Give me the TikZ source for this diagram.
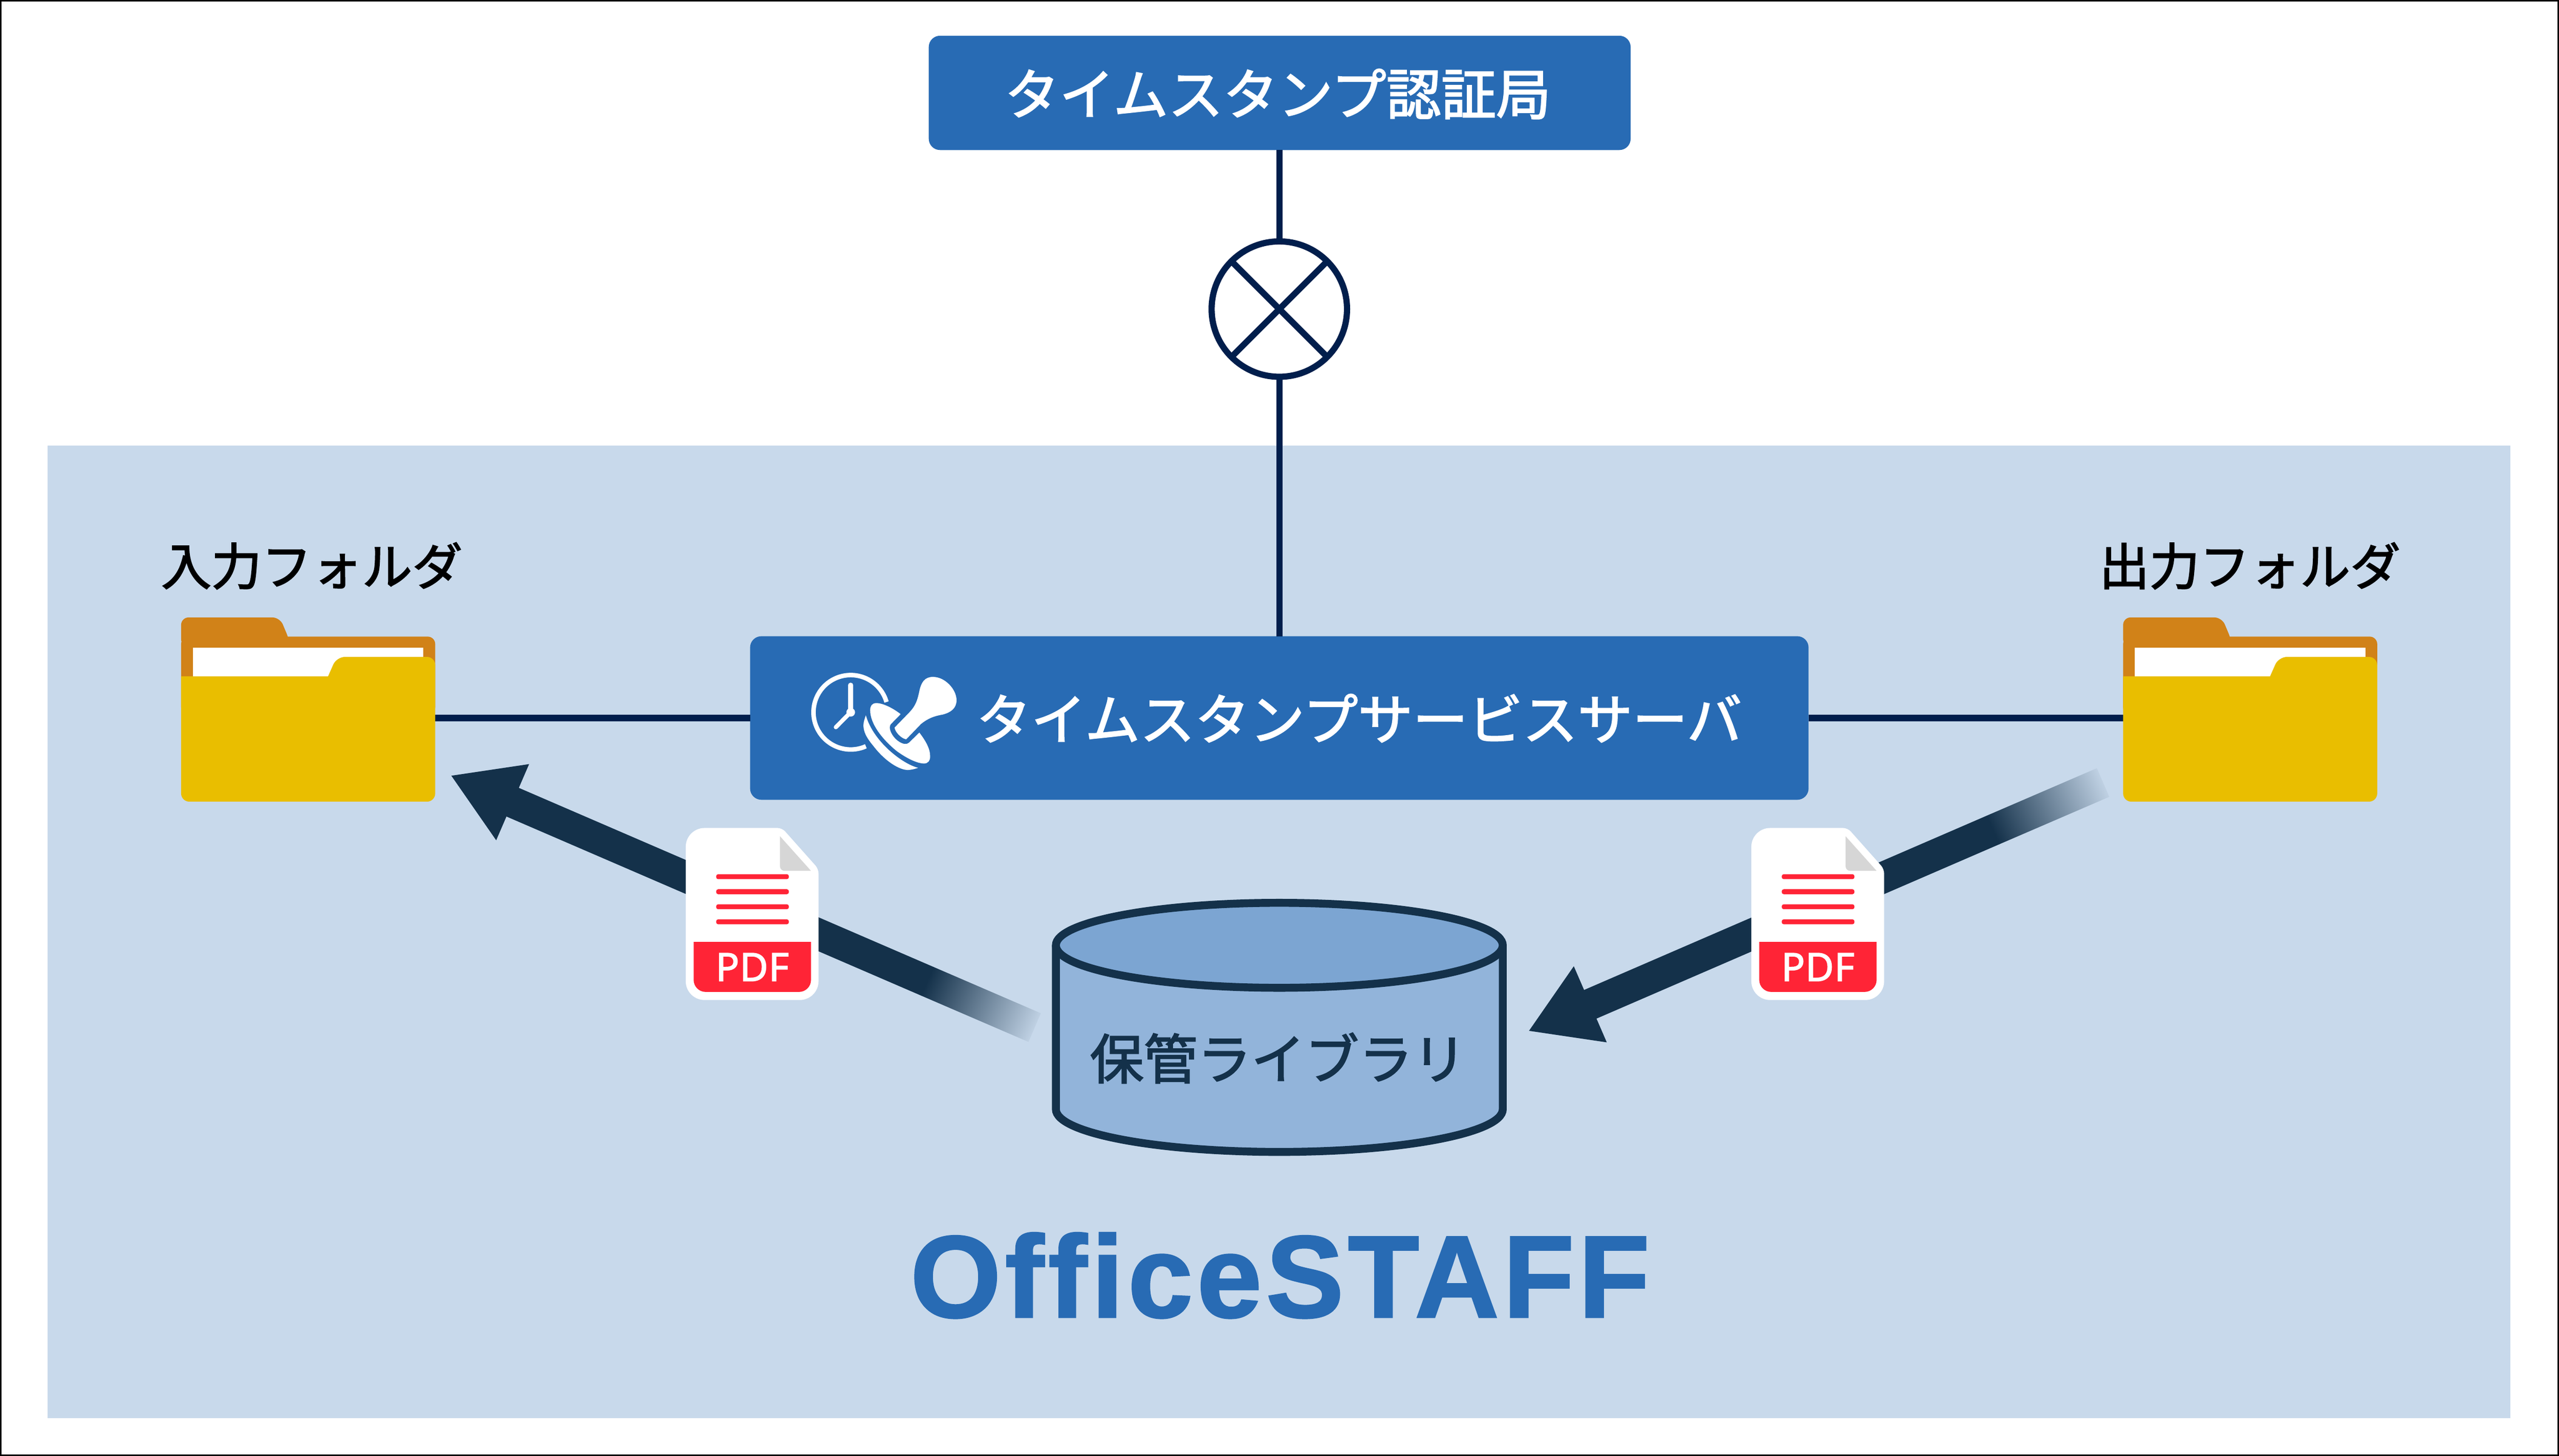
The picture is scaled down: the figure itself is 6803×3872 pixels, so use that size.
\documentclass[tikz,border=0pt]{standalone}
\usepackage{fontspec}
\usetikzlibrary{arrows.meta,shapes.geometric}
\setmainfont[RawFeature={embolden=2.2}]{Noto Sans CJK JP}
\newfontfamily\brandfont[LetterSpace=3.6,Ligatures=NoCommon,RawFeature={embolden=1.5}]{Liberation Sans}
\newfontfamily\pdffont[RawFeature={embolden=2},LetterSpace=1]{Noto Sans}
\definecolor{bgblue}{HTML}{C8D9EB}
\definecolor{boxblue}{HTML}{286BB4}
\definecolor{linkcol}{HTML}{011E4C}
\definecolor{arrowcol}{HTML}{14314A}
\definecolor{cyltop}{HTML}{7CA5D2}
\definecolor{cylbody}{HTML}{92B4DA}
\definecolor{folderfront}{HTML}{E9BE00}
\definecolor{folderback}{HTML}{D18218}
\definecolor{pdfred}{HTML}{FF2436}
\definecolor{foldgrey}{HTML}{D6D6D6}
\tikzset{
  bluebox/.style={rectangle,rounded corners=3pt,fill=boxblue,inner sep=0pt,outer sep=0pt},
  whitetext/.style={text=white,inner sep=0pt,outer sep=0pt,font=\fontsize{14.6}{17}\selectfont},
  foldertext/.style={text=black,inner sep=0pt,outer sep=0pt,font=\fontsize{13.35}{16}\selectfont},
  link/.style={draw=linkcol,line width=1.65pt},
  flow/.style={draw=arrowcol,line width=8.3pt,-{Triangle[length=18pt,width=20.7pt]}},
  fadetail/.style={left color=arrowcol,right color=bgblue!95!arrowcol},
  ghost/.style={rectangle,inner sep=0pt,outer sep=0pt},
}
\newcommand{\folderart}{%
  \fill[folderback,rounded corners=2pt] (481.5,1720) -- (481.5,1642) -- (744,1642) -- (770,1704) -- (770,1720) -- cycle;
  \fill[folderback,rounded corners=2pt] (481.5,1900) -- (481.5,1693) -- (1157,1693) -- (1157,1900) -- cycle;
  \fill[white] (512.5,1722) rectangle (1125.6,1800);
  \fill[folderfront] (481.5,1799) -- (872,1799) [rounded corners=2.2pt] -- (895,1747) -- (1157,1747) -- (1157,2132) -- (481.5,2132) [sharp corners] -- cycle;
}
\newcommand{\pdfart}{%
  \fill[white] (1823,2430) [rounded corners=5pt] -- (1823,2202) [rounded corners=1.2pt] -- (2079,2202) -- (2176,2311) [rounded corners=5pt] -- (2176,2659.5) -- (1823,2659.5) [sharp corners] -- cycle;
  \fill[foldgrey] (2073.6,2224) -- (2156,2316) [rounded corners=1.2pt] -- (2073.6,2316) [sharp corners] -- cycle;
  \foreach \ly in {2325,2365,2405,2445}{
    \fill[pdfred,rounded corners=0.5pt] (1904,\ly) rectangle (2097,\ly+13);
  }
  \fill[pdfred] (1844,2505) -- (2156,2505) [rounded corners=3.2pt] -- (2156,2638) -- (1844,2638) [sharp corners] -- cycle;
}
\begin{document}
\begin{tikzpicture}[x=0.1pt,y=-0.1pt]
\useasboundingbox (0,0) rectangle (6803,3872);
\fill[white] (0,0) rectangle (6803,3872);
\draw[black,line width=0.4pt] (2,2) rectangle (6801,3870);
\fill[bgblue] (126,1185) rectangle (6673,3771);

% anchors of main blocks
\node[bluebox,minimum width=186.6pt,minimum height=30.4pt] (ca) at (3402,247) {};
\node[circle,draw=linkcol,fill=white,line width=1.65pt,minimum size=36pt,inner sep=0pt,outer sep=0pt] (cross) at (3401,822) {};
\node[bluebox,minimum width=281.4pt,minimum height=43.5pt] (server) at (3401,1909.5) {};
\node[ghost,minimum width=67.55pt,minimum height=49pt] (folderL) at (819.25,1887) {};
\node[ghost,minimum width=67.55pt,minimum height=49pt] (folderR) at (5982.25,1887) {};

% connectors
\draw[link] (ca.south -| cross.north) -- (cross.north);
\draw[link] (cross.south) -- (cross.south |- server.north);
\draw[link] (cross.45) -- (cross.225);
\draw[link] (cross.135) -- (cross.-45);
\draw[link] (folderL.east |- server.west) -- (server.west);
\draw[link] (server.east) -- (folderR.west |- server.east);

% text in the blue boxes
\node[whitetext] (catext) at (3397,250) {タイムスタンプ認証局};
\node[whitetext] (servertext) at (3613,1910) {タイムスタンプサービスサーバ};

% stamp and clock icon
\draw[white,line width=1.2pt] plot[domain=16:294,samples=50,smooth] ({2261.6+99*cos(\x)},{1894.3-99*sin(\x)});
\draw[white,line width=1.3pt,line cap=round] (2261.6,1894) -- (2261.6,1822);
\draw[white,line width=1.1pt,line cap=round] (2261.6,1894) -- (2222,1934);
\fill[white] (2261.6,1894.3) circle[radius=11.5];
\begin{scope}[shift={(1900,1600)},xscale=0.6378,yscale=0.3827]
  \fill[white] (750,875) -- (810,772) .. controls (840,720) and (845,680) .. (852,630) .. controls (860,560) and (875,523) .. (910,523) .. controls (960,523) and (1008,610) .. (1008,685) .. controls (1008,740) and (985,770) .. (950,785) .. controls (915,795) and (890,810) .. (860,850) -- (798,957) .. controls (775,950) and (750,900) .. (750,875) -- cycle;
  \fill[white] (775,782) .. controls (735,730) and (695,705) .. (675,705) .. controls (655,705) and (648,725) .. (648,755) .. controls (648,850) and (700,960) .. (760,1040) .. controls (810,1100) and (850,1125) .. (872,1125) .. controls (890,1125) and (898,1105) .. (898,1075) .. controls (898,1020) and (878,965) .. (853,910) -- (810,980) .. controls (800,995) and (785,990) .. (770,975) .. controls (745,950) and (728,900) .. (730,870) .. controls (730,860) and (733,855) .. (735,850) -- cycle;
  \fill[white] (630,790) .. controls (650,910) and (710,1020) .. (770,1090) .. controls (800,1125) and (825,1145) .. (848,1155) .. controls (830,1165) and (815,1170) .. (805,1170) .. controls (770,1170) and (710,1110) .. (660,1000) .. controls (630,940) and (620,900) .. (620,860) .. controls (620,835) and (625,815) .. (630,790) -- cycle;
\end{scope}

% folders
\folderart
\begin{scope}[xshift=516.3pt]\folderart\end{scope}
\node[foldertext] (folderLlabel) at (829,1505) {入力フォルダ};
\node[foldertext] (folderRlabel) at (5981,1505) {出力フォルダ};

% library cylinder
\node[ghost,minimum width=118.75pt,minimum height=66.35pt] (library) at (3401,2732) {};
\fill[cylbody] (2807,2514) -- (2807,2950) .. controls (2807,3013) and (3073,3063.5) .. (3401,3063.5) .. controls (3729,3063.5) and (3995,3013) .. (3995,2950) -- (3995,2514) -- cycle;
\draw[arrowcol,line width=2.1pt] (2807,2514) -- (2807,2950) .. controls (2807,3013) and (3073,3063.5) .. (3401,3063.5) .. controls (3729,3063.5) and (3995,3013) .. (3995,2950) -- (3995,2514);
\draw[arrowcol,fill=cyltop,line width=2.1pt] (3401,2514) ellipse[x radius=594,y radius=113];
\node[text=arrowcol,inner sep=0pt,font=\fontsize{14.3}{17}\selectfont] (librarytext) at (3398,2814) {保管ライブラリ};

% flows
\coordinate (flowLtip) at (1197.6,2062);
\coordinate (flowLfade) at (2466,2610);
\coordinate (flowRtip) at (4062.5,2742.4);
\coordinate (flowRfade) at (5299,2207);
\draw[flow] (flowLfade) -- (flowLtip);
\draw[flow] (flowRfade) -- (flowRtip);
\shade[fadetail,transform canvas={shift={(flowLfade)},rotate=-23.34}] (-0.1pt,-4.15pt) rectangle (31pt,4.15pt);
\shade[fadetail,transform canvas={shift={(flowRfade)},rotate=23.34}] (-0.1pt,-4.15pt) rectangle (31.8pt,4.15pt);

% documents
\pdfart
\node[text=white,inner sep=0pt,font=\pdffont\fontsize{10.4}{12}\selectfont] (pdfL) at (2000,2572) {PDF};
\begin{scope}[xshift=283.3pt]\pdfart\end{scope}
\node[text=white,inner sep=0pt,font=\pdffont\fontsize{10.4}{12}\selectfont] (pdfR) at (4833,2572) {PDF};

% product name
\node[anchor=base,text=boxblue,inner sep=0pt,font=\brandfont\bfseries\fontsize{31}{36}\selectfont] (brand) at (3403,3503) {OfficeSTAFF};
\end{tikzpicture}
\end{document}
